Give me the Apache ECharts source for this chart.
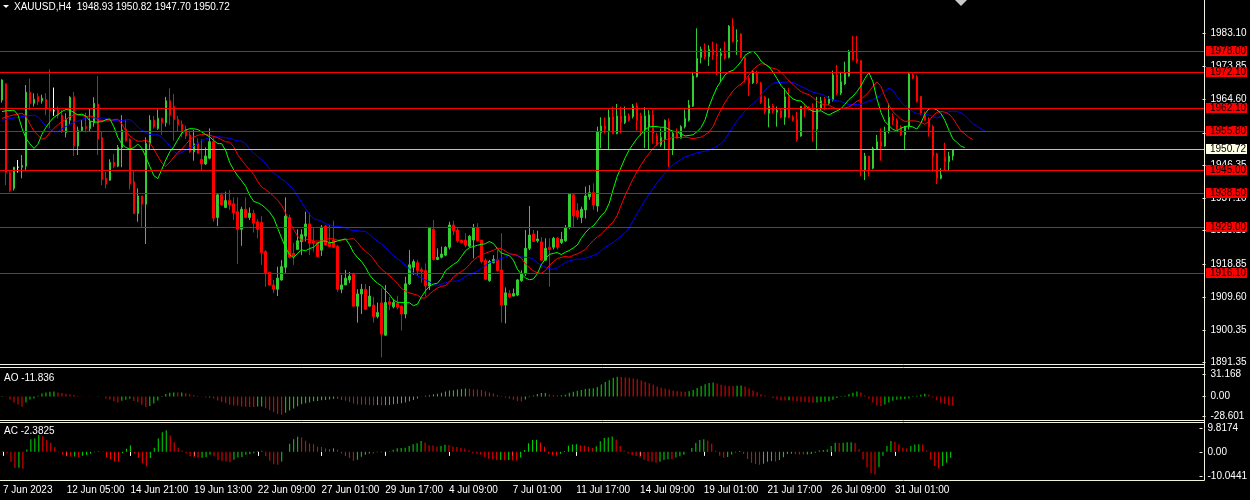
<!DOCTYPE html>
<html><head><meta charset="utf-8">
<script src="https://cdn.jsdelivr.net/npm/echarts/dist/echarts.min.js"></script>
<style>html,body{margin:0;padding:0;background:#000;}#c{width:1250px;height:500px;}</style>
</head><body><div id="c"></div>
<script>
// ---- data (XAUUSD H4) ----
const barOpen = [
1964.5,1969.0,1944.3,1939.9,1945.8,1945.8,1946.1,1966.7,1963.6,1965.5,
1964.3,1964.7,1962.2,1961.5,1961.7,1960.3,1955.4,1958.9,1965.4,1951.7,
1956.0,1957.1,1956.6,1958.2,1963.4,1954.1,1942.7,1942.2,1947.1,1946.1,
1951.3,1956.4,1953.6,1941.8,1932.9,1937.8,1935.5,1952.4,1958.9,1956.6,
1959.4,1958.2,1964.3,1962.7,1959.1,1957.8,1956.2,1954.8,1950.1,1952.5,
1948.0,1946.7,1948.3,1952.9,1931.8,1938.1,1934.6,1936.5,1935.6,1933.4,
1928.5,1934.1,1931.8,1933.0,1930.6,1930.4,1922.3,1916.5,1913.0,1911.8,
1914.4,1917.9,1931.8,1921.8,1922.9,1925.1,1926.6,1930.0,1925.1,1924.8,
1922.7,1929.4,1924.8,1925.5,1923.7,1911.8,1913.0,1914.4,1916.0,1907.1,
1910.5,1911.8,1907.1,1907.4,1904.2,1908.0,1899.0,1908.3,1906.9,1907.9,
1907.1,1904.9,1913.3,1917.9,1919.2,1917.3,1917.0,1912.7,1928.5,1920.1,
1920.7,1921.3,1923.5,1929.7,1928.3,1925.5,1925.5,1923.8,1925.5,1929.0,
1925.5,1919.8,1914.2,1919.2,1920.1,1917.2,1907.4,1910.6,1909.9,1910.2,
1914.2,1916.1,1923.2,1927.2,1925.3,1925.0,1919.9,1923.5,1923.5,1926.0,
1924.8,1925.3,1929.0,1938.1,1933.7,1931.8,1933.9,1937.6,1938.7,1935.0,
1955.4,1957.3,1956.0,1959.9,1955.1,1960.1,1958.2,1960.1,1959.9,1962.8,
1960.1,1956.2,1957.1,1960.4,1954.5,1952.0,1953.6,1958.5,1950.8,1955.2,
1953.9,1957.1,1958.9,1962.8,1971.0,1976.4,1978.4,1976.6,1978.6,1977.5,
1976.9,1977.5,1976.4,1985.1,1980.8,1982.9,1976.4,1970.6,1969.3,1972.1,
1969.2,1965.3,1960.8,1962.8,1961.1,1961.5,1959.7,1965.4,1959.7,1959.1,
1954.5,1962.7,1962.5,1962.2,1956.4,1962.1,1964.7,1963.6,1964.5,1971.5,
1966.4,1969.0,1971.2,1978.0,1975.9,1975.5,1945.0,1948.9,1945.5,1950.8,
1952.9,1951.7,1955.7,1959.7,1958.9,1956.9,1954.8,1957.1,1971.5,1971.0,
1965.5,1960.8,1959.1,1957.1,1949.5,1942.7,1948.7,1947.3,1948.93];
const barHigh = [
1970.3,1969.2,1945.0,1945.9,1947.8,1949.2,1968.7,1970.5,1966.4,1966.4,
1966.0,1966.4,1973.1,1968.0,1962.7,1961.7,1960.8,1965.6,1966.8,1957.1,
1958.9,1961.0,1962.2,1965.3,1971.2,1955.7,1944.5,1948.0,1949.5,1952.0,
1960.3,1959.1,1953.8,1945.0,1939.9,1937.8,1954.1,1960.3,1960.1,1961.9,
1959.6,1965.4,1967.8,1966.2,1960.1,1958.8,1957.3,1956.0,1956.2,1953.8,
1953.6,1951.3,1956.6,1954.3,1938.5,1938.7,1939.0,1939.4,1937.4,1937.4,
1934.8,1937.4,1934.6,1933.9,1931.3,1932.2,1922.7,1916.7,1914.4,1918.1,
1919.9,1937.4,1932.5,1924.6,1928.5,1928.5,1933.4,1933.1,1928.8,1925.0,
1929.7,1929.7,1929.7,1930.9,1924.1,1915.8,1917.2,1916.6,1916.4,1911.8,
1913.3,1913.3,1912.7,1909.7,1908.1,1912.1,1913.0,1909.7,1909.0,1910.0,
1907.4,1915.3,1922.7,1920.1,1920.0,1917.9,1919.0,1929.0,1931.1,1923.2,
1923.7,1923.8,1930.6,1930.9,1929.0,1925.5,1927.4,1926.9,1930.0,1930.2,
1925.5,1920.4,1920.0,1921.3,1922.7,1927.4,1912.3,1911.6,1912.0,1914.6,
1917.1,1928.3,1935.0,1928.3,1928.1,1926.3,1926.0,1926.0,1926.4,1926.4,
1927.8,1929.7,1938.5,1938.3,1935.7,1934.8,1940.4,1940.8,1941.3,1957.1,
1959.7,1959.7,1961.9,1962.7,1963.4,1962.7,1962.7,1960.8,1963.4,1963.8,
1961.0,1962.5,1961.7,1961.7,1955.4,1956.6,1959.1,1959.4,1955.7,1956.6,
1957.5,1961.9,1964.5,1972.4,1984.5,1979.4,1980.3,1979.8,1980.8,1980.3,
1978.9,1980.8,1985.4,1987.3,1984.2,1983.1,1976.6,1971.5,1972.9,1972.7,
1969.6,1965.6,1965.0,1963.4,1962.7,1962.2,1967.8,1967.8,1960.3,1961.3,
1962.8,1963.4,1962.8,1963.6,1965.4,1965.4,1965.4,1965.6,1972.7,1974.3,
1972.4,1975.2,1978.5,1982.4,1982.4,1975.6,1949.8,1948.9,1951.5,1954.8,
1956.6,1957.1,1963.6,1960.8,1959.4,1957.5,1957.3,1972.4,1971.9,1971.5,
1965.6,1961.3,1959.7,1957.6,1949.8,1945.5,1952.6,1950.1,1950.82];
const barLow = [
1963.8,1940.8,1938.8,1939.3,1944.3,1942.7,1944.9,1961.7,1962.7,1963.1,
1963.5,1960.3,1956.6,1960.1,1959.4,1955.4,1954.1,1957.6,1948.9,1949.2,
1955.7,1955.5,1955.7,1957.1,1949.2,1940.8,1939.9,1942.0,1945.5,1945.8,
1945.8,1952.9,1939.6,1932.8,1930.6,1928.8,1924.4,1950.8,1956.6,1956.2,
1954.8,1957.1,1957.6,1953.2,1955.7,1954.1,1953.6,1949.8,1947.6,1949.5,
1945.0,1946.4,1948.0,1930.6,1929.4,1935.1,1934.4,1933.9,1931.1,1918.8,
1923.9,1931.6,1931.1,1927.6,1926.0,1918.6,1912.5,1912.8,1910.7,1909.9,
1914.2,1916.4,1920.4,1918.6,1922.7,1921.3,1925.1,1921.3,1922.3,1920.7,
1921.1,1924.0,1923.5,1923.3,1911.1,1910.7,1913.0,1913.5,1906.9,1902.5,
1904.9,1906.0,1907.0,1902.5,1903.7,1892.8,1898.8,1906.0,1906.5,1906.2,
1900.3,1903.7,1913.0,1915.8,1915.5,1913.6,1909.7,1911.6,1919.8,1919.9,
1920.4,1921.0,1922.9,1926.9,1924.8,1924.6,1923.5,1923.5,1920.4,1925.1,
1919.0,1914.4,1913.9,1919.0,1916.7,1902.5,1902.3,1909.3,1909.9,1909.9,
1913.9,1915.5,1922.7,1925.0,1924.8,1919.8,1919.8,1912.5,1922.9,1922.9,
1924.4,1925.0,1928.5,1929.0,1931.1,1930.2,1931.5,1936.7,1933.9,1933.4,
1951.1,1955.2,1950.8,1955.0,1955.0,1955.2,1957.8,1958.5,1959.4,1956.0,
1954.5,1951.1,1950.8,1952.4,1951.7,1951.5,1950.6,1945.8,1949.2,1953.8,
1953.8,1956.6,1958.5,1962.6,1970.8,1974.7,1975.9,1974.0,1975.7,1971.5,
1969.6,1975.7,1976.1,1980.5,1977.1,1976.1,1969.4,1965.6,1969.0,1969.0,
1963.4,1960.6,1956.9,1960.8,1957.1,1959.4,1957.6,1959.4,1958.5,1952.9,
1954.3,1959.7,1961.6,1952.9,1950.8,1961.7,1961.7,1963.1,1964.1,1965.9,
1965.9,1968.7,1971.0,1975.5,1974.7,1943.2,1942.2,1943.2,1945.2,1950.6,
1947.6,1951.5,1955.2,1957.6,1956.2,1954.5,1950.8,1956.3,1970.3,1963.8,
1960.3,1958.8,1954.3,1944.5,1941.1,1942.4,1945.0,1945.0,1947.70];
const barClose = [
1970.1,1944.3,1939.3,1945.8,1945.8,1946.3,1966.7,1963.6,1964.7,1964.1,
1965.0,1961.9,1961.5,1961.5,1960.3,1955.7,1959.1,1965.3,1951.7,1956.0,
1957.0,1956.6,1958.5,1963.6,1953.6,1942.4,1941.1,1947.1,1946.1,1951.3,
1956.2,1953.2,1941.1,1932.9,1937.8,1935.5,1952.4,1958.9,1957.1,1959.4,
1958.2,1964.3,1960.3,1959.1,1957.6,1955.7,1954.5,1950.1,1952.3,1949.7,
1946.7,1948.9,1952.9,1931.6,1938.1,1935.3,1936.5,1935.3,1933.1,1928.5,
1934.1,1931.8,1933.0,1930.2,1928.5,1922.0,1916.4,1913.0,1911.8,1914.9,
1918.1,1932.2,1920.7,1920.9,1925.3,1927.0,1930.0,1924.6,1924.6,1920.9,
1929.1,1924.1,1923.7,1923.5,1911.8,1913.0,1914.9,1915.5,1907.1,1910.5,
1911.8,1906.2,1909.9,1904.2,1905.3,1899.3,1908.1,1907.6,1908.1,1906.8,
1904.9,1913.3,1918.6,1919.5,1917.0,1916.7,1912.7,1928.8,1920.1,1920.7,
1921.6,1923.5,1929.7,1928.1,1925.3,1924.8,1924.1,1926.6,1929.0,1925.3,
1919.5,1914.6,1919.5,1920.1,1917.0,1907.4,1910.8,1909.7,1910.6,1914.4,
1916.2,1923.2,1926.9,1925.1,1925.8,1919.9,1923.2,1922.9,1926.0,1923.5,
1925.7,1929.0,1938.3,1932.2,1932.0,1934.1,1937.8,1938.7,1935.3,1955.7,
1957.3,1956.4,1959.7,1955.1,1960.1,1958.2,1960.1,1958.9,1962.8,1958.8,
1955.7,1960.1,1960.4,1955.2,1952.0,1954.1,1958.8,1950.8,1955.2,1953.9,
1957.1,1959.4,1963.1,1971.2,1976.1,1978.6,1976.6,1978.6,1977.1,1976.8,
1977.5,1976.1,1985.1,1980.8,1981.1,1976.4,1970.6,1969.0,1972.4,1969.3,
1963.8,1961.3,1962.8,1961.5,1961.7,1959.7,1965.4,1959.7,1958.9,1953.5,
1962.7,1962.1,1961.9,1956.4,1962.2,1964.3,1963.6,1965.0,1971.5,1966.4,
1969.6,1971.9,1978.0,1975.7,1975.2,1945.0,1948.9,1945.0,1951.0,1952.9,
1951.7,1955.7,1959.7,1958.8,1956.3,1954.8,1957.1,1971.8,1970.6,1964.1,
1960.8,1958.9,1956.9,1948.9,1942.7,1943.6,1947.3,1948.9,1950.72];

const timeLabels = ['7 Jun 2023','12 Jun 05:00','14 Jun 21:00','19 Jun 13:00','22 Jun 09:00','27 Jun 01:00',
  '29 Jun 17:00','4 Jul 09:00','7 Jul 01:00','11 Jul 17:00','14 Jul 09:00','19 Jul 01:00','21 Jul 17:00',
  '26 Jul 09:00','31 Jul 01:00'];
const levelLines = [1978.00,1972.10,1962.10,1955.80,1945.00,1938.50,1929.00,1916.10];
const currentPrice = 1950.72;
const priceTicks = [1983.10,1973.85,1964.60,1955.35,1946.35,1937.10,1928.10,1918.85,1909.60,1900.35,1891.35];
const aoTicks = [31.168, 0, -28.601];
const aoTickText = ['31.168','0.00','-28.601'];
const acTicks = [9.8174, 0, -10.0441];
const acTickText = ['9.8174','0.00','-10.0441'];
const titleText = 'XAUUSD,H4  1948.93 1950.82 1947.70 1950.72';
const aoText = 'AO -11.836';
const acText = 'AC -2.3825';
// indicator values at the left edge (before enough history exists)
const aoLead = [0.5,-0.3,-4.3,-8.6,-11.4,-14.8,-8.6,-4.3,-2.9,1.0,4.3,5.7,6.7,6.9,5.7,4.8,3.8,2.9,1.9,0.5,
  0.3,-0.2,-0.3,-0.1,0.3,0.1,-2.9,-4.3,-6.7,-8.6,-6.2,-4.8,-3.3];
const acLead = [0.3,-0.5,-4.2,-6.7];
const lipsLead = [1961.3,1961.5,1961.6];
const teethLead = [1959.4,1959.8,1960.1,1960.4,1960.6];
const jawLead = [1958.9,1959.1,1959.3,1959.5,1959.7,1959.9,1960.0,1960.2];
const lipsStart = 1961.7, teethStart = 1960.8, jawStart = 1960.3;

// ---- build ----
const N = barOpen.length;
const TOTAL = 301;
const cats = Array.from({length: TOTAL}, (_, i) => String(i));
const hi = barHigh.map((h, i) => Math.max(h, barOpen[i], barClose[i]));
const lo = barLow.map((l, i) => Math.min(l, barOpen[i], barClose[i]));
const median = hi.map((h, i) => (h + lo[i]) / 2);

const candleData = [];
for (let i = 0; i < N; i++) {
  const d = {value: [barOpen[i], barClose[i], lo[i], hi[i]]};
  if (barOpen[i] === barClose[i]) d.itemStyle = {color:'#FFFFFF', color0:'#FFFFFF', borderColor:'#FFFFFF', borderColor0:'#FFFFFF'};
  candleData.push(d);
}

// Bill Williams Alligator: SMMA of median price, shifted forward
function alligator(period, shift, start, lead) {
  const sm = [start];
  for (let i = 1; i < N; i++) sm.push((sm[i - 1] * (period - 1) + median[i]) / period);
  const out = new Array(TOTAL).fill(null);
  for (let j = 0; j < shift; j++) out[j] = lead[j];
  for (let i = 0; i < N; i++) out[i + shift] = sm[i];
  return out;
}
const jaw = alligator(13, 8, jawStart, jawLead);
const teeth = alligator(8, 5, teethStart, teethLead);
const lips = alligator(5, 3, lipsStart, lipsLead);

function mean(a, s, e) { let t = 0; for (let k = s; k <= e; k++) t += a[k]; return t / (e - s + 1); }
const ao = [];
for (let i = 0; i < N; i++) ao.push(i < 33 ? aoLead[i] : mean(median, i - 4, i) - mean(median, i - 33, i));
const ac = [];
for (let i = 0; i < N; i++) ac.push(i < 4 ? acLead[i] : ao[i] - mean(ao, i - 4, i));

function histo(arr) {
  let col = '#00E000';
  return arr.map((v, i) => {
    if (i > 0) { if (v > arr[i - 1]) col = '#00E000'; else if (v < arr[i - 1]) col = '#FF0000'; }
    return {value: v, itemStyle: {color: col}};
  });
}

const FONT = "'Liberation Sans',Arial,sans-serif";
const FS = 10;
const FRAME = '#F2F2DC';
const showLab = (i) => i % 16 === 0 && i / 16 < timeLabels.length;

const chart = echarts.init(document.getElementById('c'), null, {renderer: 'canvas'});
const baseX = (gi, show) => ({
  gridIndex: gi, type: 'category', data: cats, boundaryGap: true,
  axisLine: {show: false}, splitLine: {show: false},
  axisTick: show ? {show: true, alignWithLabel: true, interval: (i) => showLab(i), length: 4, lineStyle: {color: '#FFFFFF'}} : {show: false},
  axisLabel: show ? {show: true, interval: (i) => showLab(i), formatter: (v) => timeLabels[Number(v) / 16] || '',
    align: 'left', color: '#FFFFFF', fontFamily: FONT, fontSize: FS, margin: 5} : {show: false}
});
const yLab = (vals, fmt) => ({customValues: vals, formatter: fmt, color: '#FFFFFF', fontFamily: FONT, fontSize: FS, margin: 8});

chart.setOption({
  animation: false,
  backgroundColor: '#000000',
  grid: [
    {left: -1.5, top: 0, width: 1204, height: 365},
    {left: -1.5, top: 368, width: 1204, height: 52},
    {left: -1.5, top: 423, width: 1204, height: 57}
  ],
  xAxis: [baseX(0, false), baseX(1, false), baseX(2, true)],
  yAxis: [
    {gridIndex: 0, type: 'value', position: 'right', min: 1890.70, max: 1992.38,
      axisLine: {show: false}, splitLine: {show: false},
      axisTick: {show: true, customValues: priceTicks, length: 3, lineStyle: {color: FRAME}},
      axisLabel: yLab(priceTicks, (v) => v.toFixed(2))},
    {gridIndex: 1, type: 'value', position: 'right', min: -33.5, max: 40.5,
      axisLine: {show: false}, splitLine: {show: false},
      axisTick: {show: true, customValues: aoTicks, length: 3, lineStyle: {color: FRAME}},
      axisLabel: yLab(aoTicks, (v) => aoTickText[aoTicks.indexOf(v)] ?? String(v))},
    {gridIndex: 2, type: 'value', position: 'right', min: -11.6, max: 11.9,
      axisLine: {show: false}, splitLine: {show: false},
      axisTick: {show: true, customValues: acTicks, length: 3, lineStyle: {color: FRAME}},
      axisLabel: yLab(acTicks, (v) => acTickText[acTicks.indexOf(v)] ?? String(v))}
  ],
  series: [
    {type: 'candlestick', xAxisIndex: 0, yAxisIndex: 0, data: candleData, barWidth: 2,
      itemStyle: {color: '#32CD32', color0: '#FF0000', borderColor: '#32CD32', borderColor0: '#FF0000', borderWidth: 1}},
    {type: 'line', xAxisIndex: 0, yAxisIndex: 0, data: jaw, showSymbol: false, symbol: 'none', lineStyle: {color: '#0000FF', width: 1}, z: 3},
    {type: 'line', xAxisIndex: 0, yAxisIndex: 0, data: teeth, showSymbol: false, symbol: 'none', lineStyle: {color: '#FF0000', width: 1}, z: 3},
    {type: 'line', xAxisIndex: 0, yAxisIndex: 0, data: lips, showSymbol: false, symbol: 'none', lineStyle: {color: '#00FF00', width: 1}, z: 3},
    {type: 'bar', xAxisIndex: 1, yAxisIndex: 1, data: histo(ao), barWidth: 1},
    {type: 'bar', xAxisIndex: 2, yAxisIndex: 2, data: histo(ac), barWidth: 1}
  ]
});

// horizontal price levels, positioned through the price axis scale and snapped to whole pixels
const gfx = [];
const hline = (y, x2, color) => ({type: 'line', shape: {x1: 0, y1: y, x2: x2, y2: y}, style: {stroke: color, lineWidth: 1}, z: 20});
function level(v, lineColor, boxColor) {
  const py = chart.convertToPixel({yAxisIndex: 0}, v);
  const y = Math.floor(py) + 0.5;
  gfx.push(hline(y, 1204, lineColor));
  gfx.push({type: 'rect', shape: {x: 1206, y: Math.floor(py) - 5, width: 41, height: 10}, style: {fill: boxColor}, z: 21});
  gfx.push({type: 'text', style: {text: v.toFixed(2), x: 1210, y: Math.floor(py), fill: '#000000', font: FS + 'px ' + FONT, verticalAlign: 'middle'}, z: 22});
}
levelLines.forEach((v) => level(v, '#FF0000', '#FF0000'));
level(currentPrice, '#C0C0C0', '#FFFFE6');

gfx.push(
  {type: 'line', shape: {x1: 1204.5, y1: 0, x2: 1204.5, y2: 480.5}, style: {stroke: FRAME, lineWidth: 1}, z: 30},
  hline(364.5, 1204.5, FRAME), hline(367.5, 1204.5, FRAME), hline(420.5, 1204.5, FRAME),
  hline(422.5, 1204.5, FRAME), hline(480.5, 1204.5, FRAME),
  {type: 'polygon', shape: {points: [[3, 5], [9, 5], [6, 8]]}, style: {fill: '#FFFFFF'}, z: 30},
  {type: 'polygon', shape: {points: [[955, 0], [967, 0], [961, 6]]}, style: {fill: '#C8C8C8'}, z: 30},
  {type: 'text', style: {text: titleText, x: 14, y: 7.5, fill: '#FFFFFF', font: FS + 'px ' + FONT, verticalAlign: 'middle'}, z: 30},
  {type: 'text', style: {text: aoText, x: 4, y: 378, fill: '#FFFFFF', font: FS + 'px ' + FONT, verticalAlign: 'middle'}, z: 30},
  {type: 'text', style: {text: acText, x: 4, y: 431.5, fill: '#FFFFFF', font: FS + 'px ' + FONT, verticalAlign: 'middle'}, z: 30}
);
chart.setOption({graphic: gfx});
</script></body></html>
